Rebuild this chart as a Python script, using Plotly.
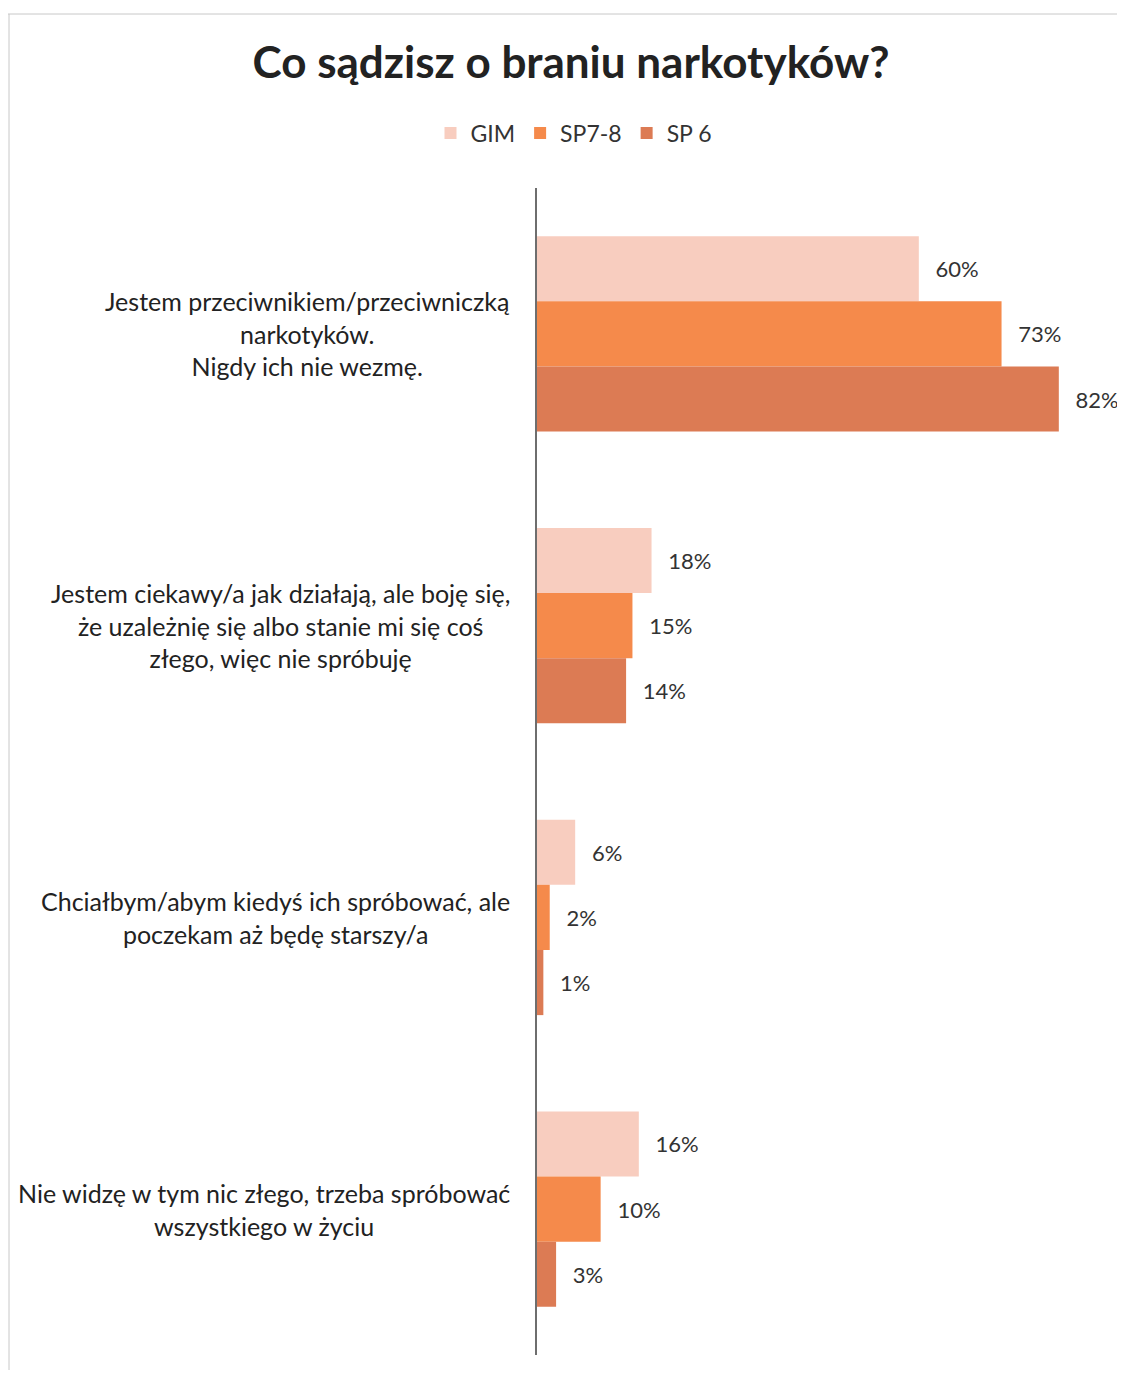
import plotly.graph_objects as go

# ── Data ──────────────────────────────────────────────────────────────────────
categories = [
    "Jestem przeciwnikiem/przeciwniczką<br>narkotyków.<br>Nigdy ich nie wezmę.",
    "Jestem ciekawy/a jak działają, ale boję się,<br>że uzależnię się albo stanie mi się coś<br>złego, więc nie spróbuję",
    "Chciałbym/abym kiedyś ich spróbować, ale<br>poczekam aż będę starszy/a",
    "Nie widzę w tym nic złego, trzeba spróbować<br>wszystkiego w życiu",
]
series_names = ["GIM", "SP7-8", "SP 6"]
gim = [60, 18, 6, 16]
sp78 = [73, 15, 2, 10]
sp6 = [82, 14, 1, 3]

COLORS = ["#F8CDBF", "#F58A4B", "#DC7B54"]
FONT = "Lato"

# ── Layout geometry (figure pixels; page adds an 8px body margin) ────────────
W, H = 1117, 1362
L, R, T, B = 529, 28, 180, 15
plot_w = W - L - R
plot_h = H - T - B

fig = go.Figure()
for name, vals, col in zip(series_names, [gim, sp78, sp6], COLORS):
    fig.add_trace(go.Bar(
        y=list(range(len(categories))), x=vals,
        orientation="h", name=name,
        marker=dict(color=col, line=dict(width=0)),
        text=[f"\u2002\u2009{v}%" for v in vals],
        textposition="outside", cliponaxis=False,
        textfont=dict(family=FONT, size=22, color="#333333"),
        hoverinfo="skip",
    ))

# category labels, centred lines, right-anchored near the axis
for i, cat in enumerate(categories):
    fig.add_annotation(
        x=0, xref="paper", xanchor="right", xshift=-25,
        y=i, yref="y", yanchor="middle",
        text=cat, showarrow=False, align="center",
        font=dict(family=FONT, size=25, color="#222222"),
    )

# scan border lines
top = 1 + (T - 6) / plot_h
fig.add_shape(type="line", xref="paper", yref="paper",
              x0=-L / plot_w, x1=1 + R / plot_w, y0=top, y1=top,
              line=dict(color="#C8C8C8", width=1))
fig.add_shape(type="line", xref="paper", yref="paper",
              x0=-(L - 1) / plot_w, x1=-(L - 1) / plot_w,
              y0=-B / plot_h, y1=top,
              line=dict(color="#C8C8C8", width=1))

fig.update_layout(
    width=W, height=H,
    paper_bgcolor="white", plot_bgcolor="white",
    margin=dict(l=L, r=R, t=T, b=B),
    barmode="group", bargap=0.33, bargroupgap=0,
    title=dict(text="<b>Co sądzisz o braniu narkotyków?</b>",
               x=563 / W, xanchor="center", y=1 - 55 / H, yanchor="middle",
               font=dict(family=FONT, size=44, color="#222222")),
    legend=dict(orientation="h", x=(566 - L) / plot_w, xanchor="center",
                y=1 + (T - 125) / plot_h, yanchor="middle",
                font=dict(family=FONT, size=23, color="#333333"),
                itemwidth=30, traceorder="normal"),
    xaxis=dict(range=[0, 88], visible=False, fixedrange=True),
    yaxis=dict(showticklabels=False, showgrid=False,
               zeroline=False, showline=True, linecolor="#6E6E6E", linewidth=1.5,
               ticks="", range=[len(categories) - 0.5, -0.5]),
)

fig.write_html("out.html")
